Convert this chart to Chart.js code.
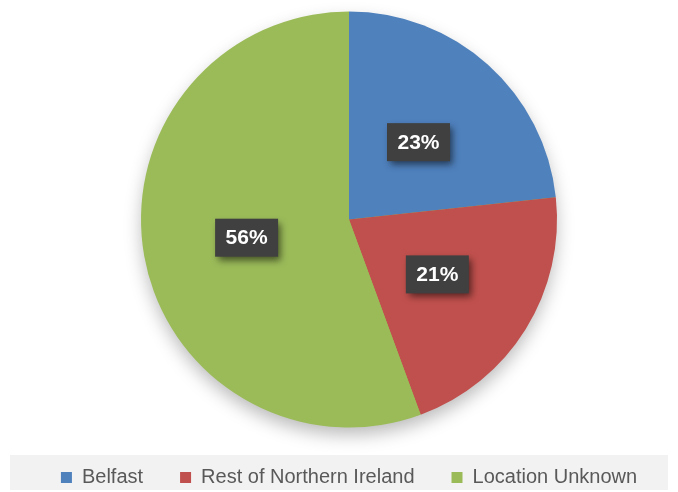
<!DOCTYPE html>
<html>
<head>
<meta charset="utf-8">
<script src="https://cdn.jsdelivr.net/npm/chart.js@4/dist/chart.umd.min.js"></script>
<style>
  html, body { margin: 0; padding: 0; background: #ffffff; }
  #wrap { width: 678px; height: 492px; }
</style>
</head>
<body>
<div id="wrap"><canvas id="c" width="678" height="492"></canvas></div>
<script>
const categories = ['Belfast', 'Rest of Northern Ireland', 'Location Unknown'];
const values = [23.3, 21.1, 55.6];
const colors = ['#4f81bd', '#c0504d', '#9bbb59'];

const bandPlugin = {
  id: 'band',
  beforeDraw(chart) {
    const ctx = chart.ctx;
    ctx.save();
    ctx.fillStyle = '#f2f2f2';
    ctx.fillRect(10, 455, 658, 35);
    ctx.restore();
  }
};

const pieShadow = {
  id: 'pieShadow',
  beforeDatasetsDraw(chart) {
    const arc = chart.getDatasetMeta(0).data[0];
    if (!arc) return;
    const ctx = chart.ctx;
    ctx.save();
    ctx.shadowColor = 'rgba(0,0,0,0.28)';
    ctx.shadowBlur = 18;
    ctx.shadowOffsetX = 0;
    ctx.shadowOffsetY = 8;
    ctx.fillStyle = '#9bbb59';
    ctx.beginPath();
    ctx.arc(arc.x, arc.y, arc.outerRadius - 1, 0, Math.PI * 2);
    ctx.fill();
    ctx.restore();
  }
};

const labelPlugin = {
  id: 'boxLabels',
  afterDatasetsDraw(chart) {
    const ctx = chart.ctx;
    const meta = chart.getDatasetMeta(0);
    const data = chart.data.datasets[0].data;
    const total = data.reduce((a, b) => a + b, 0);
    meta.data.forEach((arc, i) => {
      const p = arc.tooltipPosition();
      const txt = Math.round(data[i] / total * 100) + '%';
      const w = 63, h = 38;
      ctx.save();
      ctx.shadowColor = 'rgba(0,0,0,0.55)';
      ctx.shadowBlur = 7;
      ctx.shadowOffsetX = 3;
      ctx.shadowOffsetY = 4;
      ctx.fillStyle = '#404040';
      ctx.fillRect(p.x - w / 2, p.y - h / 2, w, h);
      ctx.restore();
      ctx.save();
      ctx.fillStyle = '#ffffff';
      ctx.font = 'bold 21px "Liberation Sans", Arial, sans-serif';
      ctx.textAlign = 'center';
      ctx.textBaseline = 'middle';
      ctx.fillText(txt, p.x, p.y + 1);
      ctx.restore();
    });
  }
};

new Chart(document.getElementById('c'), {
  type: 'pie',
  data: {
    labels: categories,
    datasets: [{
      data: values,
      backgroundColor: colors,
      borderWidth: 0,
      radius: 208
    }]
  },
  options: {
    responsive: false,
    animation: false,
    layout: { padding: { top: 8.5, bottom: -5.5, left: 20, right: 0 } },
    plugins: {
      tooltip: { enabled: false },
      legend: {
        position: 'bottom',
        labels: {
          boxWidth: 11,
          boxHeight: 11,
          padding: 37,
          color: '#595959',
          font: { family: '"Liberation Sans", Arial, sans-serif', size: 20 }
        }
      }
    }
  },
  plugins: [bandPlugin, pieShadow, labelPlugin]
});
</script>
</body>
</html>
